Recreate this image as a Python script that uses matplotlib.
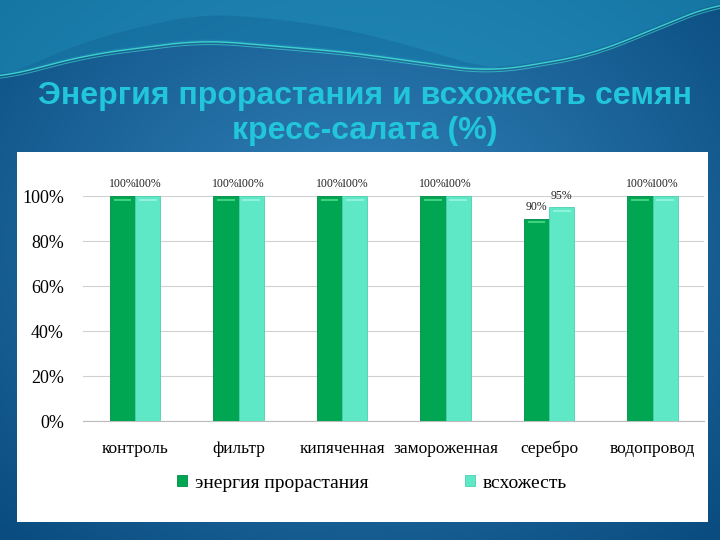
import numpy as np
import matplotlib.pyplot as plt
from matplotlib.patches import Rectangle

categories = ['контроль', 'фильтр', 'кипяченная', 'замороженная', 'серебро', 'водопровод']
energy = [100, 100, 100, 100, 90, 100]
germination = [100, 100, 100, 100, 95, 100]
yticks = [0, 20, 40, 60, 80, 100]
series_names = ['энергия прорастания', 'всхожесть']

dark_green = '#00A651'
light_green = '#5FE8C6'

fig = plt.figure(figsize=(7.2, 5.4), dpi=100)

# slide background: blue radial gradient
bg = fig.add_axes([0, 0, 1, 1])
yy, xx = np.mgrid[0:1:300j, 0:1:400j]
r = np.sqrt(((xx - 0.5) / 0.7) ** 2 + ((yy - 0.45) / 0.75) ** 2)
c_in = np.array([0.20, 0.52, 0.74])
c_out = np.array([0.04, 0.30, 0.50])
t = np.clip(r, 0, 1)[..., None]
img = c_in * (1 - t) + c_out * t
bg.imshow(img, extent=[0, 1, 0, 1], origin='upper', aspect='auto')

# decorative wave at the top
xs = np.linspace(0, 1, 400)
ctrl_x = [0, 0.12, 0.28, 0.48, 0.68, 0.82, 1.0]
ctrl_y = [78, 55, 40, 52, 72, 55, 2]
wave_px = np.interp(xs, ctrl_x, ctrl_y)
k = np.ones(41) / 41
wave_px = np.convolve(np.pad(wave_px, 20, mode='edge'), k, mode='valid')
wave = 1 - wave_px / 540
bg.fill_between(xs, wave, 1, color='#1E9CC4', alpha=0.5, lw=0)
band = np.minimum(wave + 0.05 * np.sin(np.pi * np.clip(xs / 0.7, 0, 1)), 1)
bg.fill_between(xs, wave + 0.004, band, color='#115E92', alpha=0.35, lw=0)
bg.plot(xs, wave, color='#45E3D2', lw=1.0, alpha=0.85)
bg.plot(xs, wave - 0.005, color='#45E3D2', lw=0.7, alpha=0.6)
bg.set_xlim(0, 1)
bg.set_ylim(0, 1)
bg.axis('off')

fig.text(0.507, 0.79, 'Энергия прорастания и всхожесть семян\nкресс-салата (%)',
         ha='center', va='center', fontsize=23, fontweight='bold',
         color='#22C6DA', family='Liberation Sans', linespacing=1.2)

# white chart panel
bg.add_patch(Rectangle((0.024, 0.033), 0.960, 0.685, facecolor='white',
                       edgecolor='none', zorder=3))

ax = fig.add_axes([0.1157, 0.22, 0.8625, 0.417])
ax.set_zorder(5)
x = np.arange(len(categories))
w = 0.245
b1 = ax.bar(x - w / 2, energy, w, color=dark_green, edgecolor='#008C44', lw=0.6,
            label=series_names[0], zorder=3)
b2 = ax.bar(x + w / 2, germination, w, color=light_green, edgecolor='#4CCFB0', lw=0.6,
            label=series_names[1], zorder=3)
# highlight strip near the top of each bar
for bars, hc in ((b1, '#3FD27F'), (b2, '#8FF3DC')):
    for b in bars:
        ax.add_patch(Rectangle((b.get_x() + b.get_width() * 0.15, b.get_height() - 2.2),
                               b.get_width() * 0.7, 1.0, facecolor=hc,
                               edgecolor='none', zorder=4))

for bars, vals in ((b1, energy), (b2, germination)):
    for b, v in zip(bars, vals):
        ax.text(b.get_x() + b.get_width() / 2, v + 2.5, f'{v}%', ha='center',
                va='bottom', fontsize=8.5, family='Liberation Serif', color='#222222',
                clip_on=False)

ax.set_xlim(-0.5, len(categories) - 0.5)
ax.set_ylim(0, 100)
ax.set_yticks(yticks)
ax.set_yticklabels([f'{v}%' for v in yticks], fontsize=13, family='Liberation Serif')
ax.set_xticks(x)
ax.set_xticklabels(categories, fontsize=12.5, family='Liberation Serif')
ax.tick_params(axis='both', length=0, pad=14)
ax.tick_params(axis='x', pad=14)
ax.grid(axis='y', color='#D0D0D0', lw=0.8, zorder=0)
for s in ('top', 'right', 'left'):
    ax.spines[s].set_visible(False)
ax.spines['bottom'].set_color('#BBBBBB')

leg = ax.legend(loc='upper center', bbox_to_anchor=(0.465, -0.16), ncol=2, frameon=False,
                prop={'family': 'Liberation Serif', 'size': 14}, columnspacing=5,
                handlelength=0.5, handleheight=0.5, handletextpad=0.4)

fig.savefig('out.png', dpi=100)
